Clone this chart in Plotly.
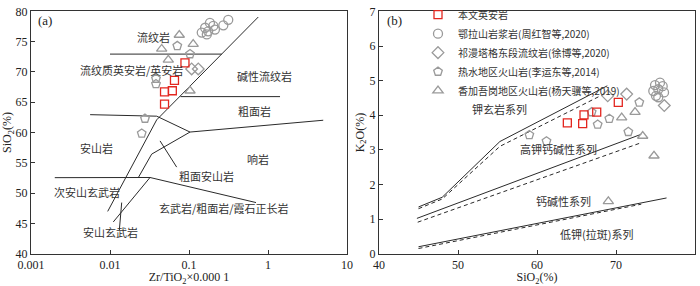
import math
import plotly.graph_objects as go

# ---------------- Panel (a): Zr/TiO2 vs SiO2 ----------------
a_this_zr = [0.0889, 0.0655, 0.0490, 0.0615, 0.0490]
a_this_si = [71.5, 68.6, 66.7, 66.9, 64.7]

a_elashan_zr = [0.145, 0.160, 0.168, 0.175, 0.184, 0.203, 0.213, 0.272, 0.314]
a_elashan_si = [76.5, 77.3, 76.2, 76.7, 78.1, 77.6, 77.0, 77.7, 78.6]

a_qiman_zr = [0.108, 0.131]
a_qiman_si = [70.5, 70.5]

a_reshui_zr = [0.0711, 0.103, 0.0382, 0.0382, 0.0277, 0.0252]
a_reshui_si = [74.3, 72.95, 68.9, 68.0, 62.3, 59.85]

a_xiangjia_zr = [0.0753, 0.113, 0.0451, 0.0547, 0.103]
a_xiangjia_si = [76.1, 74.6, 73.8, 72.0, 66.9]

# boundary lines (Zr/TiO2, SiO2)
a_lines = [
    ([0.01, 0.26], [72.95, 72.95]),
    ([0.753, 0.039, 0.00935], [79.07, 62.1, 46.98]),
    ([0.0056, 0.039, 0.103, 5.0], [62.95, 62.7, 60.08, 62.03]),
    ([0.103, 0.0337, 0.0228], [60.08, 56.44, 52.55]),
    ([0.002, 0.0321, 0.705], [52.55, 52.58, 48.44]),
    ([0.011, 0.0321], [45.24, 52.58]),
    ([0.078, 1.42], [65.93, 65.93]),
    ([0.043, 0.0698], [58.62, 54.29]),
    ([0.01406, 0.01312], [48.44, 43.85]),
]

a_labels = ["流纹岩", "流纹质英安岩/英安岩", "碱性流纹岩", "粗面岩", "响岩", "粗面安山岩",
            "玄武岩/粗面岩/霞石正长岩", "安山岩", "次安山玄武岩", "安山玄武岩"]
a_label_x = [0.0353, 0.0189, 0.916, 0.665, 0.753, 0.1675, 0.2758, 0.00679, 0.00507, 0.01015]
a_label_y = [75.8, 70.36, 69.27, 63.49, 55.63, 52.78, 47.52, 57.42, 50.11, 43.62]

a_xticks = [0.001, 0.01, 0.1, 1, 10]
a_xticktext = ["0.001", "0.01", "0.1", "1", "10"]

# ---------------- Panel (b): SiO2 vs K2O ----------------
b_this_si = [63.84, 65.78, 65.95, 67.56, 70.29]
b_this_k = [3.78, 3.76, 4.01, 4.09, 4.37]

b_elashan_si = [74.94, 75.57, 75.91, 74.72, 75.35, 76.08, 75.06, 75.35]
b_elashan_k = [4.87, 4.94, 4.84, 4.70, 4.75, 4.66, 4.56, 4.52]

b_qiman_si = [68.95, 71.35, 76.11]
b_qiman_k = [4.56, 4.61, 4.28]

b_reshui_si = [72.95, 69.15, 67.68, 71.56, 66.92, 59.03, 61.2]
b_reshui_k = [4.37, 3.90, 3.73, 3.52, 4.09, 3.43, 3.25]

b_xiangjia_si = [70.72, 72.41, 73.38, 74.81, 69.03]
b_xiangjia_k = [3.93, 4.09, 3.40, 2.83, 1.51]

b_solid_lines = [
    ([45, 48, 55.3, 68.9], [1.35, 1.63, 3.24, 4.85]),
    ([44.8, 73.2], [1.02, 3.45]),
    ([45, 76.4], [0.2, 1.61]),
]
b_dash_lines = [
    ([45, 48, 55.3, 68.9], [1.3, 1.58, 3.1, 4.66]),
    ([44.9, 73.0], [0.91, 3.19]),
    ([45, 73.2], [0.15, 1.43]),
]

b_labels = ["钾玄岩系列", "高钾钙碱性系列", "钙碱性系列", "低钾(拉斑)系列"]
b_label_x = [55.3, 62.7, 63.4, 67.5]
b_label_y = [4.18, 3.03, 1.51, 0.57]

series_names = ["本文英安岩", "鄂拉山岩浆岩(周红智等,2020)", "祁漫塔格东段流纹岩(徐博等,2020)",
                "热水地区火山岩(李运东等,2014)", "香加吾岗地区火山岩(杨天骥等,2019)"]

# ---------------- styling ----------------
RED = "#e3261f"
GRAY = "#9a9a9a"
LINE = "#2a2a2a"
CJK = "Noto Sans CJK SC"
SERIF = "Liberation Serif"

symbols = ["square-open", "circle-open", "diamond-open", "pentagon-open", "triangle-up-open"]
colors = [RED, GRAY, GRAY, GRAY, GRAY]
sizes = [8, 9, 9, 9, 9]

fig = go.Figure()

for xs, ys in a_lines:
    fig.add_trace(go.Scatter(x=xs, y=ys, mode="lines", line=dict(color=LINE, width=1),
                             showlegend=False, hoverinfo="skip", xaxis="x", yaxis="y"))
for xs, ys in b_solid_lines:
    fig.add_trace(go.Scatter(x=xs, y=ys, mode="lines", line=dict(color=LINE, width=1),
                             showlegend=False, hoverinfo="skip", xaxis="x2", yaxis="y2"))
for xs, ys in b_dash_lines:
    fig.add_trace(go.Scatter(x=xs, y=ys, mode="lines", line=dict(color=LINE, width=1, dash="4px,3px"),
                             showlegend=False, hoverinfo="skip", xaxis="x2", yaxis="y2"))

a_data = [(a_this_zr, a_this_si), (a_elashan_zr, a_elashan_si), (a_qiman_zr, a_qiman_si),
          (a_reshui_zr, a_reshui_si), (a_xiangjia_zr, a_xiangjia_si)]
b_data = [(b_this_si, b_this_k), (b_elashan_si, b_elashan_k), (b_qiman_si, b_qiman_k),
          (b_reshui_si, b_reshui_k), (b_xiangjia_si, b_xiangjia_k)]

# draw gray first, red on top
order = [1, 2, 3, 4, 0]
for i in order:
    xs, ys = a_data[i]
    fig.add_trace(go.Scatter(x=xs, y=ys, mode="markers", name=series_names[i], legendgroup=str(i),
                             marker=dict(symbol=symbols[i], size=sizes[i], color=colors[i],
                                         line=dict(width=1.3, color=colors[i])),
                             showlegend=False, xaxis="x", yaxis="y"))
for i in order:
    xs, ys = b_data[i]
    fig.add_trace(go.Scatter(x=xs, y=ys, mode="markers", name=series_names[i], legendgroup=str(i),
                             legendrank=i + 1,
                             marker=dict(symbol=symbols[i], size=sizes[i], color=colors[i],
                                         line=dict(width=1.3, color=colors[i])),
                             showlegend=True, xaxis="x2", yaxis="y2"))

annotations = []
for t, x, y in zip(a_labels, a_label_x, a_label_y):
    annotations.append(dict(text=t, x=math.log10(x), y=y, xref="x", yref="y", showarrow=False,
                            font=dict(family=CJK, size=11, color="#333")))
for t, x, y in zip(b_labels, b_label_x, b_label_y):
    annotations.append(dict(text=t, x=x, y=y, xref="x2", yref="y2", showarrow=False,
                            font=dict(family=CJK, size=11, color="#333")))
annotations.append(dict(text="(a)", x=36 / 700, y=1 - 15 / 286, xref="paper", yref="paper",
                        xanchor="left", yanchor="middle", showarrow=False,
                        font=dict(family=SERIF, size=13, color="#222")))
annotations.append(dict(text="(b)", x=385 / 700, y=1 - 15 / 286, xref="paper", yref="paper",
                        xanchor="left", yanchor="middle", showarrow=False,
                        font=dict(family=SERIF, size=13, color="#222")))

ydom = [33 / 286, 280.5 / 286]
axis_common = dict(showline=True, linecolor="#333", linewidth=1, mirror=True, ticks="inside",
                   ticklen=4, tickcolor="#333", showgrid=False, zeroline=False, automargin=False,
                   tickfont=dict(family=SERIF, size=12, color="#222"))
title_font = dict(family=SERIF, size=12, color="#222")

fig.update_layout(
    width=700, height=286,
    margin=dict(l=0, r=0, t=0, b=0),
    paper_bgcolor="white", plot_bgcolor="white",
    annotations=annotations,
    xaxis=dict(type="log", range=[-3, 1], domain=[31 / 700, 347 / 700], anchor="y",
               tickvals=a_xticks, ticktext=a_xticktext,
               title=dict(text="Zr/TiO<sub>2</sub>×0.000 1", font=title_font, standoff=0),
               **axis_common),
    yaxis=dict(range=[40, 80], dtick=5, domain=ydom, anchor="x",
               title=dict(text="SiO<sub>2</sub>(%)", font=title_font, standoff=2),
               **axis_common),
    xaxis2=dict(range=[40, 80], dtick=10, domain=[379 / 700, 695 / 700], anchor="y2",
                title=dict(text="SiO<sub>2</sub>(%)", font=title_font, standoff=0),
                **axis_common),
    yaxis2=dict(range=[0, 7], dtick=1, domain=ydom, anchor="x2",
                title=dict(text="K<sub>2</sub>O(%)", font=title_font, standoff=2),
                **axis_common),
    legend=dict(x=418 / 700, y=1 + 6 / 286, xanchor="left", yanchor="top",
                bgcolor="rgba(255,255,255,0)", font=dict(family=CJK, size=10, color="#333"),
                itemwidth=30, tracegroupgap=0, traceorder="normal"),
    showlegend=True,
)

fig.write_html("out.html", config={"displayModeBar": False},
               post_script="document.body.style.margin='0px';document.body.style.overflow='hidden';")
